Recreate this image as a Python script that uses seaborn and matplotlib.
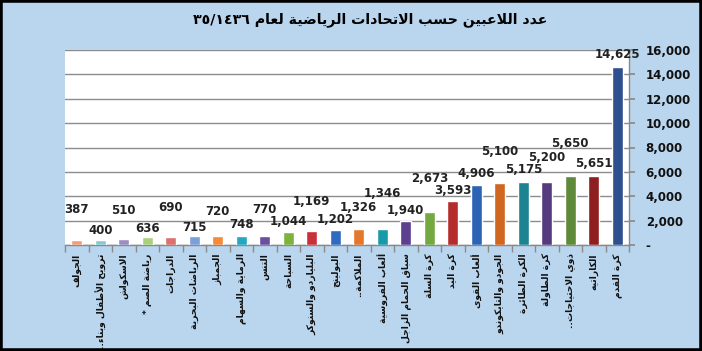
import re
import numpy as np
import pandas as pd
import matplotlib
matplotlib.use("Agg")
import matplotlib.pyplot as plt
import seaborn as sns
from matplotlib.patches import Rectangle
from matplotlib.ticker import FuncFormatter, FixedLocator

# ---------------- data ----------------
labels = ["الجولف", "ترويح الأطفال وبناء..", "الاسكواش", "رياضة الصم *",
          "الدراجات", "الرياضات البحرية", "الجمباز", "الرماية والسهام",
          "التنس", "السباحة", "البلياردو والسنوكر", "البولينج",
          "الملاكمة..", "ألعاب الفروسية", "سباق الحمام الزاجل", "كرة السلة",
          "كرة اليد", "ألعاب القوى", "الجودو والتايكوندو", "الكرة الطائرة",
          "كرة الطاولة", "ذوي الاحتياجات..", "الكاراتيه", "كرة القدم"]
values = [387, 400, 510, 636, 690, 715, 720, 748, 770, 1044, 1169, 1202,
          1326, 1346, 1940, 2673, 3593, 4906, 5100, 5175, 5200, 5650, 5651, 14625]
title = "عدد اللاعبين حسب الاتحادات الرياضية لعام ٣٥/١٤٣٦"
yticks = [0, 2000, 4000, 6000, 8000, 10000, 12000, 14000, 16000]

# ---------------- style ----------------
colors = ["#f59b7c", "#86c9d3", "#9c8dc2", "#a8cf7c", "#d9716f", "#7b9fd8",
          "#f48a3a", "#22a8c0", "#6a4ea0", "#7db23f", "#c8303a", "#2f6bc0",
          "#e5772b", "#1a9aa8", "#5c3f8f", "#74a840", "#b52c2c", "#2d63b5",
          "#d0661f", "#1b8490", "#553a80", "#5e8a3a", "#8e1e20", "#2f4f8f"]
label_offsets = [31, 10, 28, 9, 29, 9, 25, 11, 26, 11, 29, 11,
                 21, 35, 11, 34, 11, 12, 31, 12, 24, 33, 13, 12]

# ---------------- minimal Arabic shaping ----------------
DUAL = {'ب': 0xFE8F, 'ت': 0xFE95, 'ث': 0xFE99, 'ج': 0xFE9D, 'ح': 0xFEA1,
        'خ': 0xFEA5, 'س': 0xFEB1, 'ش': 0xFEB5, 'ص': 0xFEB9, 'ض': 0xFEBD,
        'ط': 0xFEC1, 'ظ': 0xFEC5, 'ع': 0xFEC9, 'غ': 0xFECD, 'ف': 0xFED1,
        'ق': 0xFED5, 'ك': 0xFED9, 'ل': 0xFEDD, 'م': 0xFEE1, 'ن': 0xFEE5,
        'ه': 0xFEE9, 'ي': 0xFEF1, 'ئ': 0xFE89}
RIGHT = {'آ': 0xFE81, 'أ': 0xFE83, 'ؤ': 0xFE85, 'إ': 0xFE87, 'ا': 0xFE8D,
         'ة': 0xFE93, 'د': 0xFEA9, 'ذ': 0xFEAB, 'ر': 0xFEAD, 'ز': 0xFEAF,
         'و': 0xFEED, 'ى': 0xFEEF}
LAMALEF = {'آ': 0xFEF5, 'أ': 0xFEF7, 'إ': 0xFEF9, 'ا': 0xFEFB}


def shape(s):
    toks = []
    i = 0
    while i < len(s):
        c = s[i]
        if c == 'ل' and i + 1 < len(s) and s[i + 1] in LAMALEF:
            toks.append(('LA', s[i + 1]))
            i += 2
        else:
            toks.append(('C', c))
            i += 1

    def joins_next(t):
        return t[0] == 'C' and t[1] in DUAL

    def is_ar(t):
        return t[0] == 'LA' or t[1] in DUAL or t[1] in RIGHT

    out = []
    for k, t in enumerate(toks):
        prev = toks[k - 1] if k > 0 else None
        nxt = toks[k + 1] if k + 1 < len(toks) else None
        jp = prev is not None and joins_next(prev) and is_ar(t)
        if t[0] == 'LA':
            out.append(chr(LAMALEF[t[1]] + (1 if jp else 0)))
            continue
        c = t[1]
        if c in DUAL:
            jn = nxt is not None and is_ar(nxt)
            form = 3 if (jp and jn) else 1 if jp else 2 if jn else 0
            out.append(chr(DUAL[c] + form))
        elif c in RIGHT:
            out.append(chr(RIGHT[c] + (1 if jp else 0)))
        else:
            out.append(c)
    vis = ''.join(out)[::-1]
    vis = re.sub(r'[0-9٠-٩/,]+', lambda m: m.group(0)[::-1], vis)
    return vis


# ---------------- plot ----------------
sns.set_theme(style="white")
plt.rcParams['font.family'] = ['DejaVu Sans']

fig = plt.figure(figsize=(7.02, 3.51), dpi=100)
fig.patch.set_facecolor("#bad5ee")
ax = fig.add_axes([65 / 702, 1 - 245 / 351, 564 / 702, 195 / 351])
ax.set_facecolor("white")

df = pd.DataFrame({"label": [shape(l) for l in labels], "value": values})
sns.barplot(data=df, x="label", y="value", hue="label", palette=colors,
            legend=False, width=0.45, saturation=1, ax=ax, zorder=3)

ax.set_xlim(-0.5, len(values) - 0.5)
ax.set_ylim(0, 16000)
ax.set_xlabel("")
ax.set_ylabel("")

# y axis on the right
ax.yaxis.tick_right()
ax.yaxis.set_major_locator(FixedLocator(yticks))
ax.yaxis.set_major_formatter(FuncFormatter(lambda v, p: '-' if v == 0 else f'{v:,.0f}'))
ax.tick_params(axis='y', which='major', length=4, color='#8a8a8a', pad=8,
               labelsize=8.5, labelcolor='#111111', right=True, left=False)
for t in ax.get_yticklabels():
    t.set_fontweight('bold')
ax.grid(axis='y', color='#8c8c8c', linewidth=1.0, zorder=0)

# x axis
ax.set_xticks(range(len(values)))
ax.set_xticklabels(df["label"], rotation=90, ha='center', va='top',
                   fontsize=6.6, fontweight='bold', color='#111111')
ax.set_xticks(np.arange(-0.5, len(values)), minor=True)
ax.tick_params(axis='x', which='major', length=0, pad=6)
ax.tick_params(axis='x', which='minor', length=5, color='#8a8a8a', bottom=True)

for s in ['top', 'left']:
    ax.spines[s].set_visible(False)
for s in ['bottom', 'right']:
    ax.spines[s].set_color('#8a8a8a')
    ax.spines[s].set_linewidth(1.0)

# data labels
for i, v in enumerate(values):
    ax.annotate(f'{v:,}', (i, v), xytext=(0, label_offsets[i]),
                textcoords='offset pixels', ha='center', va='center',
                fontsize=8.5, fontweight='bold', color='#222222', zorder=5)

fig.text(370 / 702, 1 - 20 / 351, shape(title), ha='center', va='center',
         fontsize=10.2, fontweight='bold', color='black')

fig.patches.append(Rectangle((0, 0), 1, 1, transform=fig.transFigure,
                             fill=False, edgecolor='black', linewidth=4))

fig.savefig("out.png", dpi=100, facecolor=fig.get_facecolor())
